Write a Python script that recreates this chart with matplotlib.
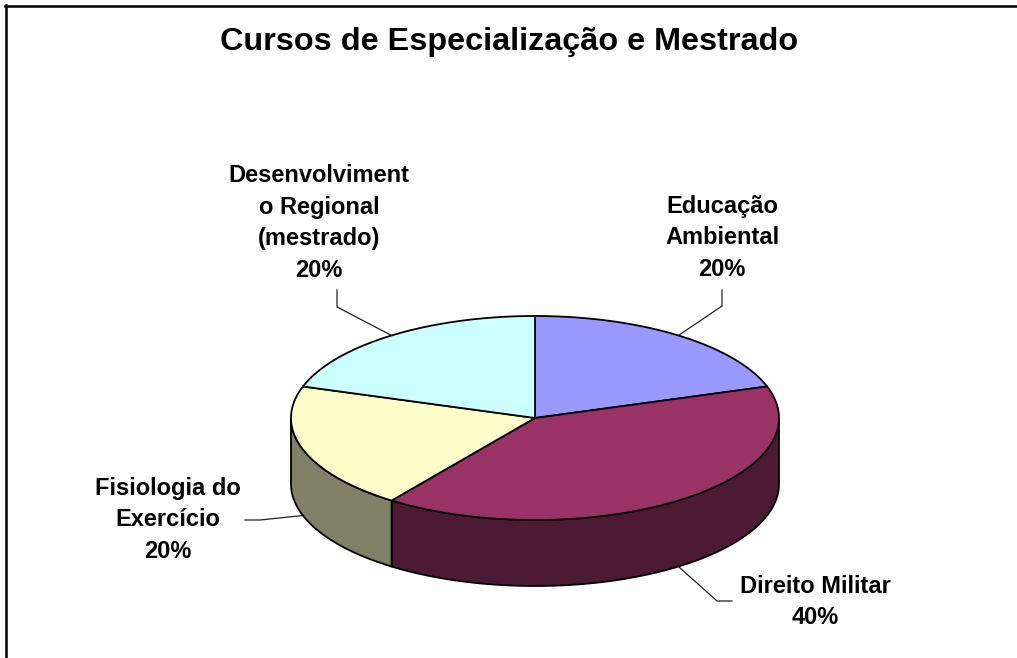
import matplotlib
matplotlib.use('Agg')
import matplotlib.pyplot as plt
from matplotlib.patches import Polygon
import numpy as np

# data
labels = ['Educação\nAmbiental', 'Direito Militar', 'Fisiologia do\nExercício',
          'Desenvolviment\no Regional\n(mestrado)']
values = [1, 2, 1, 1]
top_colors = ['#9999FF', '#993366', '#FFFFCC', '#CCFFFF']
side_colors = ['#4C4C80', '#4D1A33', '#808066', '#668080']
title = 'Cursos de Especialização e Mestrado'

# layout (pixel coords)
cx, cy, a, b, depth = 535, 418, 244, 102, 66
label_xy = [(722, 238), (815, 602), (168, 520), (319, 223)]
leader_tail = [[(722, 306), (722, 290)], [(717, 601), (732, 601)],
               [(260, 520), (245, 520)], [(337, 307), (337, 290)]]

plt.rcParams['font.family'] = ['Liberation Sans', 'DejaVu Sans']

fig = plt.figure(figsize=(10.17, 6.58), dpi=100)
ax = fig.add_axes([0, 0, 1, 1])
ax.set_xlim(0, 1017)
ax.set_ylim(658, 0)
ax.axis('off')


def arc(t1, t2, dy=0, n=120):
    t = np.radians(np.linspace(t1, t2, n))
    return np.column_stack([cx + a * np.cos(t), cy - b * np.sin(t) + dy])


total = sum(values)
ends = 90 - 360 * np.cumsum(values) / total
starts = np.concatenate([[90], ends[:-1]])

# side walls (front half only)
for s, e, col in zip(starts, ends, side_colors):
    for k in (-360, 0, 360):
        lo, hi = max(e, -180 + k), min(s, k)
        if hi > lo:
            pts = np.vstack([arc(hi, lo), arc(lo, hi, depth)])
            ax.add_patch(Polygon(pts, closed=True, fc=col, ec='black', lw=1.3, zorder=1))

# top faces
for s, e, col in zip(starts, ends, top_colors):
    pts = np.vstack([[cx, cy], arc(s, e)])
    ax.add_patch(Polygon(pts, closed=True, fc=col, ec='black', lw=1.3, zorder=2))

# labels and leader lines
for lab, v, s, e, (tx, ty), tail in zip(labels, values, starts, ends, label_xy, leader_tail):
    mid = np.radians((s + e) / 2)
    px, py = cx + a * np.cos(mid), cy - b * np.sin(mid)
    if np.sin(mid) < 0:
        py += depth
    xs = [px] + [p[0] for p in tail]
    ys = [py] + [p[1] for p in tail]
    ax.plot(xs, ys, color='#222222', lw=0.9, zorder=3)
    ax.text(tx, ty, f'{lab}\n{v / total:.0%}', ha='center', va='center',
            multialignment='center', fontsize=17, fontweight='bold', linespacing=1.47)

ax.text(509, 42, title, ha='center', va='center', fontsize=23.3, fontweight='bold')

# frame (top and left only)
ax.plot([5, 1017], [5.5, 5.5], color='black', lw=1.8, clip_on=False)
ax.plot([6, 6], [5, 658], color='black', lw=1.8, clip_on=False)

fig.savefig('out.png', dpi=100, facecolor='white')
